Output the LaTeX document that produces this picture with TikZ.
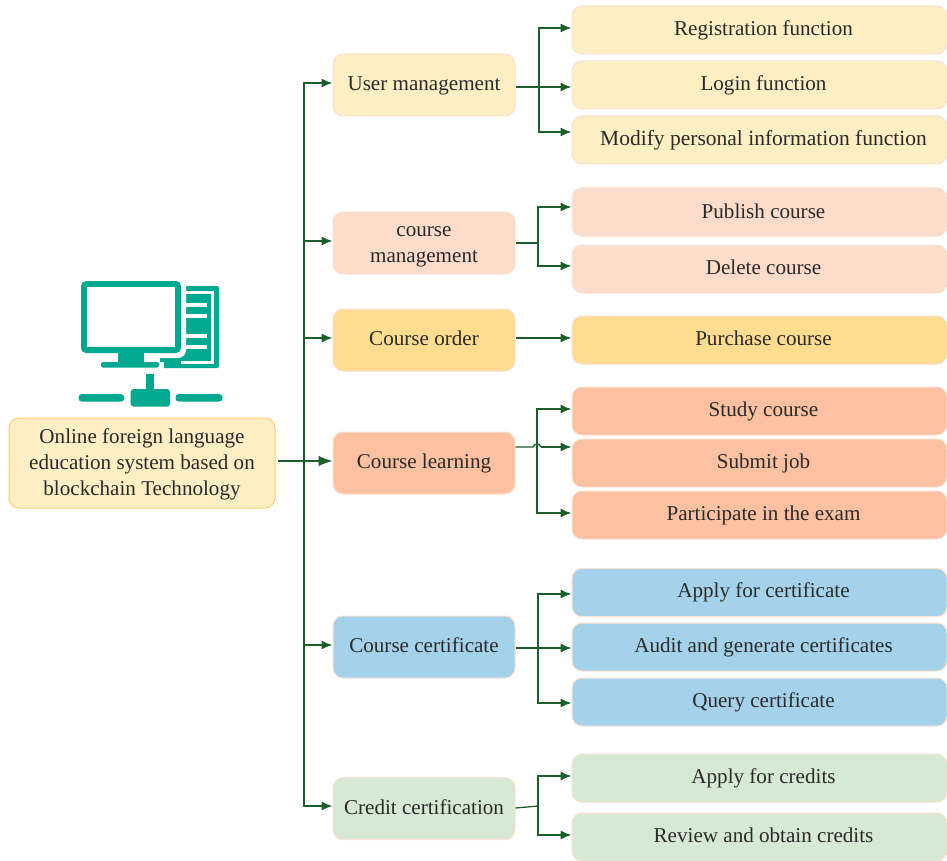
\documentclass[tikz,border=0pt]{standalone}
\usepackage{fontspec}
\setmainfont{Liberation Serif}
\usetikzlibrary{arrows.meta}
\definecolor{lineG}{HTML}{1B5E2B}
\definecolor{teal}{HTML}{00A98F}
\definecolor{ink}{HTML}{2B2A29}
\definecolor{yelF}{HTML}{FDEEC4}
\definecolor{yelD}{HTML}{FDD06F}
\definecolor{penk}{HTML}{FCE1D2}
\definecolor{pinkF}{HTML}{FDDCCB}
\definecolor{ordF}{HTML}{FEDC90}
\definecolor{salF}{HTML}{FBC1A0}
\definecolor{bluF}{HTML}{A4D2EA}
\definecolor{grnF}{HTML}{D6E9D5}
\newcommand{\rse}[2]{\raisebox{#1}[\height][\depth]{#2}}
\newcommand{\rt}[2][0pt]{\hspace*{8pt}\rse{#1}{#2}}
\tikzset{
  box/.style={rounded corners=10pt,draw=penk,line width=1pt,text=ink,align=center,font=\fontsize{21.1}{26}\selectfont,inner sep=0pt},
  leftbox/.style={box,minimum width=182pt,minimum height=62pt},
  rightbox/.style={box,minimum width=375pt,minimum height=48pt},
  conn/.style={draw=lineG,line width=1.3pt},
  arr/.style={conn,-{Latex[length=11pt,width=9pt]}},
  bigarr/.style={conn,-{Latex[length=14pt,width=10.5pt]}}
}
\begin{document}
\begin{tikzpicture}[x=1pt,y=-1pt]
\useasboundingbox (0,0) rectangle (947,861);
\clip (0,0) rectangle (947,861);
% icon
\fill[teal,rounded corners=2pt] (160,286) rectangle (219,368);
\fill[white] (181,291) rectangle (213.5,363.5);
\fill[teal] (181,293.5) rectangle (211,361);
\foreach \yy in {303,314,334,345}{\fill[white] (183,\yy) rectangle (207,\yy+4);}
\fill[white,rounded corners=8pt] (76,276) rectangle (186,358);
\fill[teal,rounded corners=5pt] (81,281) rectangle (181,353);
\fill[white] (87,287) rectangle (174.5,347);
\fill[teal] (118,352) rectangle (144,363);
\fill[white] (158,362) rectangle (164,369);
\fill[teal,rounded corners=2pt] (101,362) rectangle (159,367.5);
\fill[teal] (146,374) rectangle (154.3,392);
\fill[teal,rounded corners=3pt] (130.7,389) rectangle (170,406.7);
\fill[teal,rounded corners=3.5pt] (78.5,394) rectangle (124.3,401.7);
\fill[teal,rounded corners=3.5pt] (175.5,394) rectangle (222.5,401.7);
% root
\node[box,draw=yelD,fill=yelF,minimum width=266pt,minimum height=90pt] (root) at (142,463) {\rse{-1.5pt}{\begin{tabular}{@{}c@{}}Online foreign language\\education system based on\\blockchain Technology\end{tabular}}};
% left column
\node[leftbox,fill=yelF] (user) at (424,85) {\rse{-1pt}{User management}};
\node[leftbox,fill=pinkF] (mgmt) at (424,243) {\rse{-1pt}{\begin{tabular}{@{}c@{}}course\\management\end{tabular}}};
\node[leftbox,fill=ordF] (order) at (424,340) {\rse{2pt}{Course order}};
\node[leftbox,fill=salF] (learn) at (424,463) {Course learning};
\node[leftbox,fill=bluF] (cert) at (424,647) {\rse{2pt}{Course certificate}};
\node[leftbox,fill=grnF] (credit) at (424,808.5) {\rse{1pt}{Credit certification}};
% right column
\node[rightbox,fill=yelF] (r1) at (759.5,30) {\rt{Registration function}};
\node[rightbox,fill=yelF] (r2) at (759.5,85) {\rt{Login function}};
\node[rightbox,fill=yelF] (r3) at (759.5,140) {\rt{\fontsize{21.5}{26}\selectfont Modify personal information function}};
\node[rightbox,fill=pinkF] (r4) at (759.5,212) {\rt[1pt]{Publish course}};
\node[rightbox,fill=pinkF] (r5) at (759.5,269) {\rt[2pt]{Delete course}};
\node[rightbox,fill=ordF] (r6) at (759.5,340) {\rt[2pt]{Purchase course}};
\node[rightbox,fill=salF] (r7) at (759.5,411) {\rt{Study course}};
\node[rightbox,fill=salF] (r8) at (759.5,463) {\rt{Submit job}};
\node[rightbox,fill=salF] (r9) at (759.5,515) {\rt{Participate in the exam}};
\node[rightbox,fill=bluF] (r10) at (759.5,592.5) {\rt{Apply for certificate}};
\node[rightbox,fill=bluF] (r11) at (759.5,647) {\rt{Audit and generate certificates}};
\node[rightbox,fill=bluF] (r12) at (759.5,702) {\rt{Query certificate}};
\node[rightbox,fill=grnF] (r13) at (759.5,778) {\rt{Apply for credits}};
\node[rightbox,fill=grnF] (r14) at (759.5,837) {\rt[2pt]{Review and obtain credits}};
% hubs
\coordinate (hub) at (304,461);
\coordinate (f1) at (539,87);
\coordinate (f2) at (538,243);
\coordinate (f4) at (537,447);
\coordinate (f4t) at (537,409);
\coordinate (f4b) at (537,513);
\coordinate (f5) at (538,648);
\coordinate (f6) at (538,806);
% trunk
\draw[bigarr] ([xshift=2pt]root.east|-hub) -- (learn.west|-hub);
\draw[arr] (hub) |- ([yshift=2pt]user.west);
\draw[arr] (hub) |- ([yshift=2pt]mgmt.west);
\draw[arr] (hub) |- ([yshift=2pt]order.west);
\draw[arr] (hub) |- ([yshift=2pt]cert.west);
\draw[arr] (hub) |- ([yshift=2.5pt]credit.west);
% user
\draw[conn] ([yshift=-2pt]user.east) -- (f1);
\draw[arr] (f1) |- ([yshift=2pt]r1.west);
\draw[arr] (f1) -- (r2.west|-f1);
\draw[arr] (f1) |- ([yshift=8pt]r3.west);
% course management
\draw[conn] (mgmt.east) -- (f2);
\draw[arr] (f2) |- ([yshift=5pt]r4.west);
\draw[arr] (f2) |- ([yshift=3pt]r5.west);
% order
\draw[arr] ([yshift=2pt]order.east) -- ([yshift=2pt]r6.west);
% learning
\draw[conn] (learn.east|-f4) -- ([xshift=-4pt]f4) .. controls ([xshift=-3pt,yshift=4pt]f4) and ([xshift=3pt,yshift=4pt]f4) .. ([xshift=4pt]f4);
\draw[arr] ([xshift=4pt]f4) -- (r8.west|-f4);
\draw[arr] (f4b) -- (f4t) -- (r7.west|-f4t);
\draw[arr] (f4t) -- (f4b) -- (r9.west|-f4b);
% certificate
\draw[conn] ([yshift=-1pt]cert.east) -- (f5);
\draw[arr] (f5) |- ([yshift=-1.5pt]r10.west);
\draw[arr] (f5) -- (r11.west|-f5);
\draw[arr] (f5) |- ([yshift=-1pt]r12.west);
% credit
\draw[conn] ([yshift=.5pt]credit.east) -- (f6);
\draw[arr] (f6) |- ([yshift=2pt]r13.west);
\draw[arr] (f6) |- ([yshift=2pt]r14.west);
\end{tikzpicture}
\end{document}
